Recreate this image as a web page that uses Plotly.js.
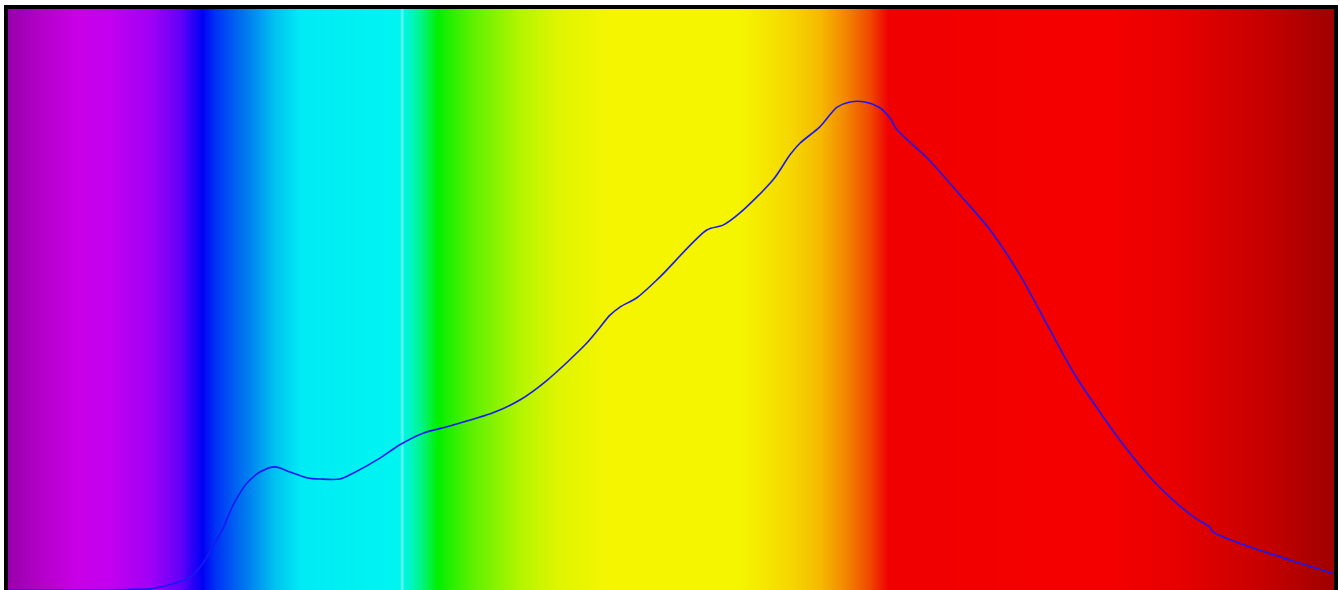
<!DOCTYPE html>
<html>
<head>
<meta charset="utf-8">
<script src="https://cdn.plot.ly/plotly-3.0.1.min.js"></script>
<style>
html, body { margin: 0; padding: 0; overflow: hidden; background: #ffffff; }
#chart { width: 1340px; height: 590px; }
</style>
</head>
<body>
<div id="chart"></div>
<script>
// Spectrum background: wavelength stops (nm) and their colours
const bandWavelengths = [380.0, 389.7, 400.2, 410.8, 422.8, 431.9, 438.5, 442.4, 451.5, 460.5,
  468.1, 497.8, 498.8, 499.5, 504.3, 509.4, 519.4, 534.4, 546.5, 561.6,
  600.8, 615.9, 624.9, 632.5, 640.0, 645.5, 709.4, 733.5, 757.7, 780.0];
const bandColors = ['rgb(150,0,170)', 'rgb(180,0,200)', 'rgb(200,0,230)', 'rgb(195,0,240)', 'rgb(160,0,245)',
  'rgb(100,0,248)', 'rgb(0,0,245)', 'rgb(0,50,245)', 'rgb(0,120,240)', 'rgb(0,195,240)',
  'rgb(0,235,245)', 'rgb(0,245,240)', 'rgb(90,248,232)', 'rgb(0,245,228)', 'rgb(0,245,140)',
  'rgb(0,240,0)', 'rgb(90,240,0)', 'rgb(180,245,0)', 'rgb(225,245,0)', 'rgb(245,245,0)',
  'rgb(245,245,0)', 'rgb(245,215,0)', 'rgb(245,185,0)', 'rgb(242,135,0)', 'rgb(240,70,0)',
  'rgb(240,0,0)', 'rgb(245,0,0)', 'rgb(230,0,0)', 'rgb(200,0,0)', 'rgb(160,0,0)'];

// Spectral curve (relative intensity)
const wavelength = [380.0, 407.8, 416.8, 422.8, 428.9, 434.9, 438.8, 441.5, 444.6, 447.9,
  452.1, 456.0, 460.5, 465.1, 470.2, 474.1, 480.2, 484.1, 492.2, 498.2,
  505.2, 512.4, 526.3, 534.4, 542.6, 554.1, 558.0, 561.6, 564.6, 569.7,
  576.7, 590.9, 595.7, 600.8, 610.8, 615.9, 618.9, 624.9, 630.1, 634.0,
  638.5, 643.0, 646.1, 648.2, 657.2, 667.2, 676.2, 685.3, 694.3, 701.9,
  709.4, 717.0, 724.5, 731.4, 738.1, 742.6, 743.5, 754.7, 769.8, 780.0];
const intensity = [0.000, 0.000, 0.001, 0.002, 0.009, 0.022, 0.046, 0.072, 0.103, 0.146,
  0.184, 0.203, 0.212, 0.203, 0.193, 0.191, 0.191, 0.201, 0.227, 0.250,
  0.270, 0.281, 0.305, 0.327, 0.361, 0.422, 0.448, 0.473, 0.487, 0.503,
  0.539, 0.620, 0.628, 0.649, 0.706, 0.749, 0.769, 0.797, 0.831, 0.840,
  0.840, 0.830, 0.812, 0.792, 0.744, 0.680, 0.620, 0.542, 0.448, 0.370,
  0.306, 0.246, 0.194, 0.155, 0.124, 0.108, 0.100, 0.074, 0.046, 0.028];

const wMin = bandWavelengths[0];
const wMax = bandWavelengths[bandWavelengths.length - 1];
const colorscale = bandWavelengths.map((w, i) => [(w - wMin) / (wMax - wMin), bandColors[i]]);

const background = {
  type: 'heatmap',
  x: bandWavelengths,
  y: [-0.5, 1.5],
  z: [bandWavelengths, bandWavelengths],
  zmin: wMin,
  zmax: wMax,
  zsmooth: 'best',
  colorscale: colorscale,
  showscale: false,
  hoverinfo: 'skip'
};

const curve = {
  type: 'scatter',
  mode: 'lines',
  x: wavelength,
  y: intensity,
  line: { color: 'rgb(25,25,245)', width: 1.6, shape: 'spline', smoothing: 0.8 },
  hoverinfo: 'skip'
};

const layout = {
  width: 1340,
  height: 590,
  margin: { l: 8, r: 6, t: 9, b: 0, pad: 0 },
  paper_bgcolor: '#ffffff',
  plot_bgcolor: '#ffffff',
  showlegend: false,
  xaxis: {
    range: [wMin, wMax], showgrid: false, zeroline: false, showticklabels: false, ticks: '',
    showline: true, mirror: true, linewidth: 4, linecolor: '#000000', fixedrange: true
  },
  yaxis: {
    range: [0, 1], showgrid: false, zeroline: false, showticklabels: false, ticks: '',
    showline: true, mirror: true, linewidth: 4, linecolor: '#000000', fixedrange: true
  }
};

Plotly.newPlot('chart', [background, curve], layout, { displayModeBar: false, staticPlot: true });
</script>
</body>
</html>
